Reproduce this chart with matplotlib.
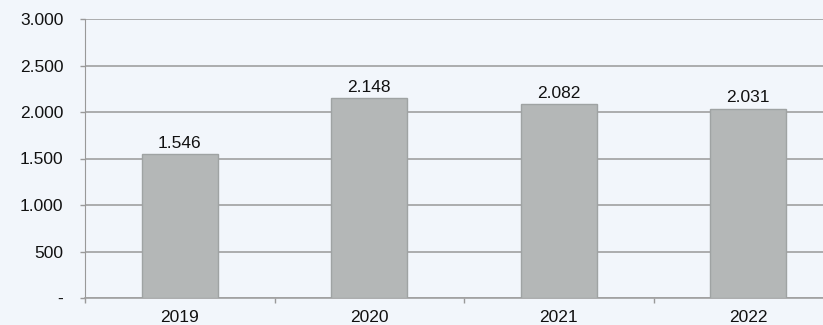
import matplotlib.pyplot as plt
import numpy as np

plt.rcParams['font.family'] = ['Liberation Sans', 'DejaVu Sans']

years = ['2019', '2020', '2021', '2022']
values = [1546, 2148, 2082, 2031]
yticks = [0, 500, 1000, 1500, 2000, 2500, 3000]
ytick_labels = ['-', '500', '1.000', '1.500', '2.000', '2.500', '3.000']
value_labels = ['1.546', '2.148', '2.082', '2.031']

bg = '#f2f6fb'
fs = 12.5
fig = plt.figure(figsize=(8.23, 3.25), dpi=100, facecolor=bg)
# axes runs past the right edge, as in the original
ax = fig.add_axes([85 / 823, 27 / 325, 758 / 823, 279 / 325])
ax.set_facecolor(bg)

x = np.arange(len(years))
ax.bar(x, values, width=0.4, color='#b4b7b7', edgecolor='#9fa3a3', linewidth=1, zorder=3)
for xi, v, lab in zip(x, values, value_labels):
    ax.text(xi, v + 40, lab, ha='center', va='bottom', fontsize=fs, color='#111111', zorder=4)

ax.set_xlim(-0.5, len(years) - 0.5)
ax.set_ylim(0, 3000)
ax.set_yticks(yticks)
ax.set_yticklabels(ytick_labels, fontsize=fs, color='#111111')
ax.set_xticks(x)
ax.set_xticklabels(years, fontsize=fs, color='#111111')
ax.set_xticks(np.arange(len(years) + 1) - 0.5, minor=True)

ax.tick_params(axis='y', length=3.6, width=1, color='#999999', pad=12)
ax.tick_params(axis='x', which='major', length=0, pad=9)
ax.tick_params(axis='x', which='minor', length=3.6, width=1, color='#999999')

ax.grid(axis='y', color='#a0a0a0', linewidth=1.2, zorder=0)
for s in ['top', 'right']:
    ax.spines[s].set_visible(False)
ax.spines['left'].set_color('#999999')
ax.spines['bottom'].set_color('#a0a0a0')
ax.spines['bottom'].set_linewidth(1.2)

fig.savefig('out.png', dpi=100, facecolor=bg)
